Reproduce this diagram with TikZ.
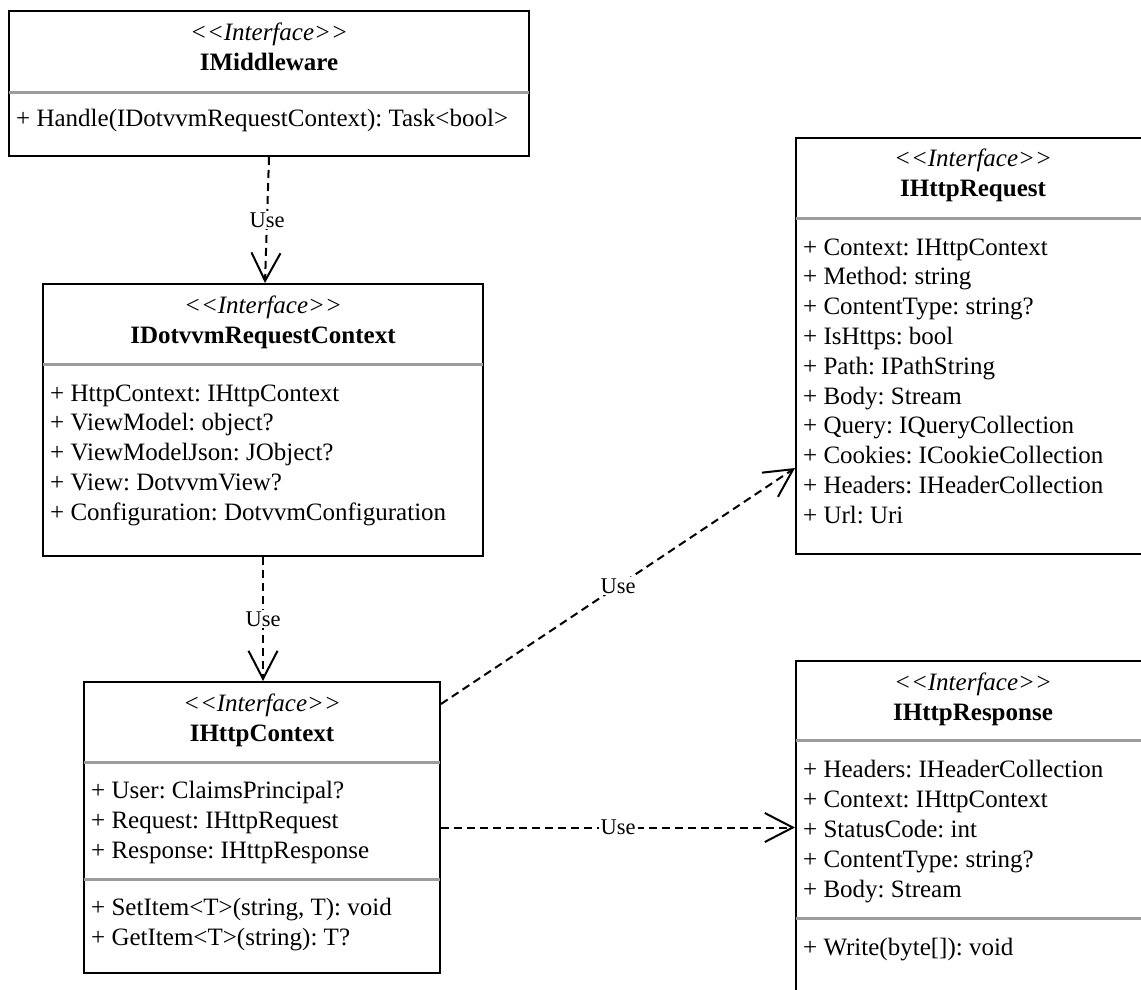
\documentclass[tikz,border=0pt]{standalone}
\usepackage{fontspec}
\setmainfont{Liberation Serif}
\usetikzlibrary{calc,arrows.meta}
\definecolor{sepgray}{HTML}{9C9C9C}
% stereotype text; the kerns keep the angle brackets from merging into guillemets
\newcommand\ifacestereo{\textless\kern0pt\textless Interface\textgreater\kern0pt\textgreater}
\begin{document}
\frenchspacing
\begin{tikzpicture}[x=1pt,y=-1pt,
  umlbox/.style={draw=black, line width=2pt, fill=white, rectangle, inner sep=0pt, anchor=north west},
  stereo/.style={anchor=base, inner sep=0pt, font=\fontsize{25}{30}\selectfont\itshape},
  cname/.style={anchor=base, inner sep=0pt, font=\fontsize{25}{30}\selectfont\bfseries},
  member/.style={anchor=base west, inner sep=0pt, font=\fontsize{25}{30}\selectfont},
  sepline/.style={draw=sepgray, line width=3pt},
  uses/.style={draw=black, line width=2pt, dash pattern=on 8pt off 5pt, -{Straight Barb[length=28pt,width=29pt]}},
  uselabel/.style={fill=white, inner sep=2pt, font=\fontsize{22.5}{26}\selectfont},
]
\useasboundingbox (0,0) rectangle (1141,989);
\clip (0,0) rectangle (1141,989);
\fill[white] (0,0) rectangle (1141,989);

% IMiddleware
\node[umlbox, minimum width=520pt, minimum height=145pt] (mw) at (8,10) {};
\node[stereo] (mw-st) at ($(mw.north)+(0,30)$) {\ifacestereo};
\node[cname] (mw-nm) at ($(mw.north)+(0,60)$) {IMiddleware};
\draw[sepline] ($(mw.north west)+(1,82)$) -- ($(mw.north east)+(-1,82)$);
\node[member] (mw-m0) at ($(mw.north west)+(8,116)$) {+ Handle(IDotvvmRequestContext): Task\textless bool\textgreater};

% IDotvvmRequestContext
\node[umlbox, minimum width=440pt, minimum height=272pt] (drc) at (42,283) {};
\node[stereo] (drc-st) at ($(drc.north)+(0,30)$) {\ifacestereo};
\node[cname] (drc-nm) at ($(drc.north)+(0,60)$) {IDotvvmRequestContext};
\draw[sepline] ($(drc.north west)+(1,81)$) -- ($(drc.north east)+(-1,81)$);
\foreach \t [count=\i from 0] in {
  {+ HttpContext: IHttpContext},
  {+ ViewModel: object?},
  {+ ViewModelJson: JObject?},
  {+ View: DotvvmView?},
  {+ Configuration: DotvvmConfiguration}}
  \node[member] (drc-a\i) at ($(drc.north west)+(8,118+29.8*\i)$) {\t};

% IHttpContext
\node[umlbox, minimum width=356pt, minimum height=291pt] (ctx) at (83,681) {};
\node[stereo] (ctx-st) at ($(ctx.north)+(0,30)$) {\ifacestereo};
\node[cname] (ctx-nm) at ($(ctx.north)+(0,60)$) {IHttpContext};
\draw[sepline] ($(ctx.north west)+(1,81)$) -- ($(ctx.north east)+(-1,81)$);
\foreach \t [count=\i from 0] in {
  {+ User: ClaimsPrincipal?},
  {+ Request: IHttpRequest},
  {+ Response: IHttpResponse}}
  \node[member] (ctx-a\i) at ($(ctx.north west)+(8,117+30*\i)$) {\t};
\draw[sepline] ($(ctx.north west)+(1,198)$) -- ($(ctx.north east)+(-1,198)$);
\foreach \t [count=\i from 0] in {
  {+ SetItem\textless T\textgreater(string, T): void},
  {+ GetItem\textless T\textgreater(string): T?}}
  \node[member] (ctx-m\i) at ($(ctx.north west)+(8,234+30*\i)$) {\t};

% IHttpRequest
\node[umlbox, minimum width=354pt, minimum height=416pt] (req) at (795,137) {};
\node[stereo] (req-st) at ($(req.north)+(0,29)$) {\ifacestereo};
\node[cname] (req-nm) at ($(req.north)+(0,59)$) {IHttpRequest};
\draw[sepline] ($(req.north west)+(1,81)$) -- ($(req.north east)+(-1,81)$);
\foreach \t [count=\i from 0] in {
  {+ Context: IHttpContext},
  {+ Method: string},
  {+ ContentType: string?},
  {+ IsHttps: bool},
  {+ Path: IPathString},
  {+ Body: Stream},
  {+ Query: IQueryCollection},
  {+ Cookies: ICookieCollection},
  {+ Headers: IHeaderCollection},
  {+ Url: Uri}}
  \node[member] (req-a\i) at ($(req.north west)+(8,118+29.8*\i)$) {\t};

% IHttpResponse
\node[umlbox, minimum width=354pt, minimum height=400pt] (resp) at (795,660) {};
\node[stereo] (resp-st) at ($(resp.north)+(0,30)$) {\ifacestereo};
\node[cname] (resp-nm) at ($(resp.north)+(0,60)$) {IHttpResponse};
\draw[sepline] ($(resp.north west)+(1,80)$) -- ($(resp.north east)+(-1,80)$);
\foreach \t [count=\i from 0] in {
  {+ Headers: IHeaderCollection},
  {+ Context: IHttpContext},
  {+ StatusCode: int},
  {+ ContentType: string?},
  {+ Body: Stream}}
  \node[member] (resp-a\i) at ($(resp.north west)+(8,117+30*\i)$) {\t};
\draw[sepline] ($(resp.north west)+(1,258)$) -- ($(resp.north east)+(-1,258)$);
\node[member] (resp-m0) at ($(resp.north west)+(8,295)$) {+ Write(byte[]): void};

% dependencies
\draw[uses] (mw.south) -- node[uselabel] (use1) {Use} ($(drc.north west)+(223,0)$);
\draw[uses] (drc.south) -- node[uselabel] (use2) {Use} (drc.south |- ctx.north);
\draw[uses] ($(ctx.north east)+(0,23)$) -- node[uselabel] (use3) {Use} ($(req.north west)+(0,331)$);
\draw[uses] (ctx.east) -- node[uselabel] (use4) {Use} (ctx.east -| resp.west);
\end{tikzpicture}
\end{document}
